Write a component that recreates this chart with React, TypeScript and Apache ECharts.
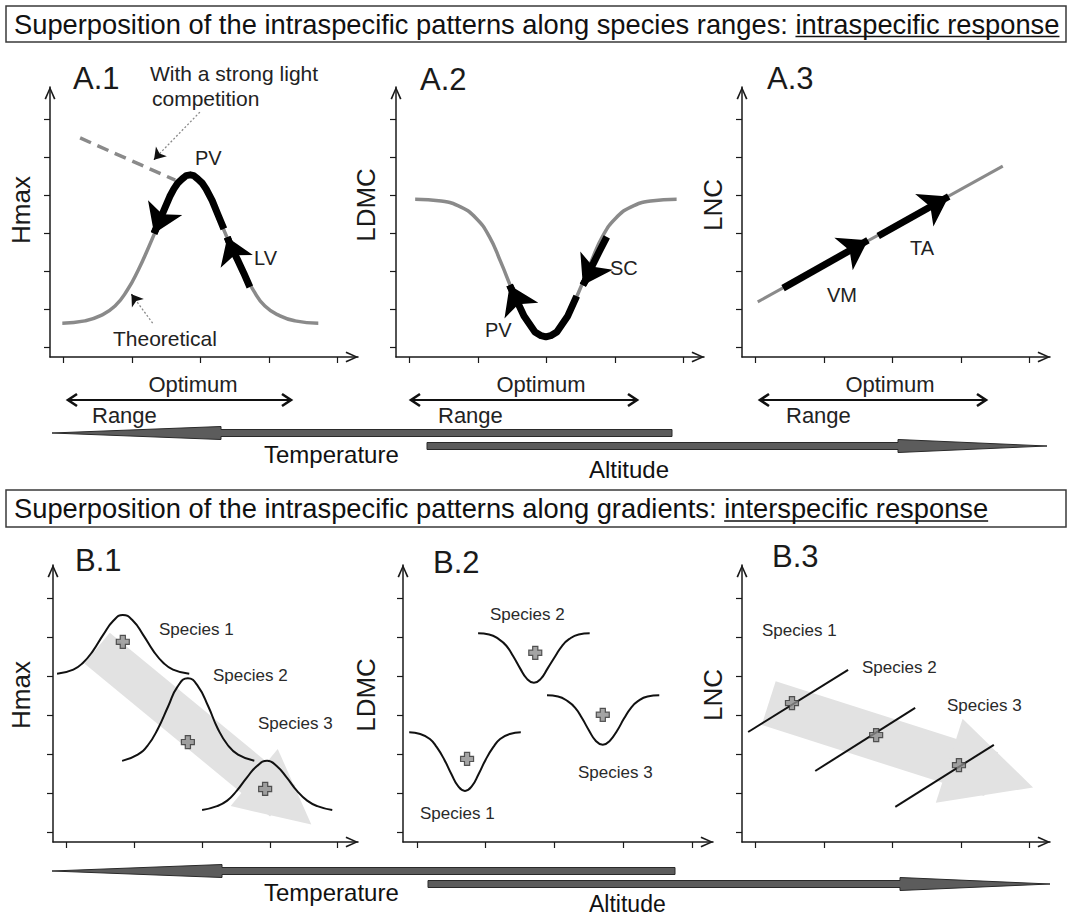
import React, { useEffect, useRef } from "react";
import * as echarts from "echarts";

const FONT = "'Liberation Sans', Arial, Helvetica, sans-serif";

// shared tick values (no labels in the figure)
const xTicks = [1, 2, 3, 4, 5];
const yTicks = [1, 2, 3, 4, 5, 6, 7];

// ---------- A.1 Hmax ----------
const a1Theoretical = [
  [0.98, 1.64], [1.31, 1.7], [1.53, 1.83], [1.75, 2.09], [1.93, 2.51], [2.09, 3.04], [2.23, 3.59],
  [2.41, 4.35], [2.58, 5.06], [2.73, 5.43], [2.85, 5.54], [2.96, 5.43], [3.11, 5.06], [3.28, 4.35],
  [3.46, 3.59], [3.61, 3.04], [3.77, 2.51], [3.94, 2.09], [4.16, 1.83], [4.38, 1.7], [4.72, 1.64],
];
const a1PV = [
  [3.34, 4.12], [3.25, 4.51], [3.17, 4.86], [3.08, 5.17], [3.02, 5.33], [2.96, 5.43], [2.9, 5.52],
  [2.85, 5.54], [2.79, 5.52], [2.73, 5.43], [2.67, 5.33], [2.61, 5.17], [2.55, 4.97], [2.47, 4.63],
  [2.38, 4.25], [2.32, 4.0],
];
const a1LV = [[3.72, 2.59], [3.63, 2.96], [3.55, 3.27], [3.44, 3.67], [3.39, 3.9]];
const a1LightCompetition = [[1.24, 6.51], [2.63, 5.4]];
const a1CompetitionPointer = [[2.99, 7.19], [2.37, 6.04], [2.32, 5.94]];
const a1TheoreticalPointer = [[2.3, 1.64], [2.03, 2.3], [1.99, 2.4]];

// ---------- A.2 LDMC ----------
const a2Theoretical = [
  [1.08, 4.9], [1.46, 4.85], [1.75, 4.69], [1.97, 4.4], [2.16, 3.93], [2.33, 3.25], [2.51, 2.46],
  [2.67, 1.83], [2.83, 1.41], [2.99, 1.28], [3.15, 1.41], [3.31, 1.83], [3.47, 2.46], [3.65, 3.25],
  [3.82, 3.93], [4.01, 4.4], [4.23, 4.69], [4.52, 4.85], [4.9, 4.9],
];
const a2PV = [
  [3.44, 2.35], [3.31, 1.83], [3.15, 1.41], [3.06, 1.31], [2.99, 1.28], [2.92, 1.31], [2.83, 1.41],
  [2.67, 1.83], [2.54, 2.33], [2.46, 2.64],
];
const a2SC = [[3.88, 3.91], [3.78, 3.56], [3.68, 3.2], [3.58, 2.8], [3.53, 2.64]];

// ---------- A.3 LNC ----------
const a3Theoretical = [[1.03, 2.2], [4.61, 5.77]];
const a3VM = [[1.4, 2.56], [2.64, 3.82]];
const a3TA = [[2.79, 3.93], [3.82, 4.97]];

// ---------- B.1 Hmax ----------
const b1Species1 = [
  [0.86, 5.06], [1.1, 5.17], [1.24, 5.34], [1.39, 5.65], [1.54, 6.06], [1.69, 6.42], [1.83, 6.57],
  [1.98, 6.42], [2.13, 6.06], [2.28, 5.65], [2.43, 5.34], [2.57, 5.17], [2.81, 5.06],
];
const b1Species2 = [
  [1.82, 2.83], [2.05, 2.99], [2.2, 3.23], [2.35, 3.66], [2.5, 4.23], [2.64, 4.74], [2.79, 4.95],
  [2.94, 4.74], [3.09, 4.23], [3.23, 3.66], [3.38, 3.23], [3.53, 2.99], [3.77, 2.83],
];
const b1Species3 = [
  [3.0, 1.57], [3.22, 1.67], [3.37, 1.81], [3.51, 2.06], [3.66, 2.4], [3.81, 2.7], [3.96, 2.83],
  [4.1, 2.7], [4.25, 2.4], [4.4, 2.06], [4.55, 1.81], [4.7, 1.67], [4.92, 1.57],
];
const b1Means = [[1.83, 5.88], [2.79, 3.31], [3.93, 2.11]];
const b1Trend = [[1.45, 5.72], [4.19, 1.8]];

// ---------- B.2 LDMC ----------
const b2Species1 = [
  [0.89, 3.56], [1.05, 3.52], [1.19, 3.39], [1.29, 3.18], [1.4, 2.86], [1.5, 2.5], [1.6, 2.18], [1.7, 2.06],
  [1.8, 2.18], [1.9, 2.5], [2.0, 2.86], [2.11, 3.18], [2.21, 3.39], [2.35, 3.52], [2.51, 3.56],
];
const b2Species2 = [
  [1.89, 6.1], [2.05, 6.07], [2.19, 5.95], [2.3, 5.78], [2.4, 5.51], [2.5, 5.2], [2.6, 4.93], [2.7, 4.83],
  [2.8, 4.93], [2.9, 5.2], [3.01, 5.51], [3.11, 5.78], [3.21, 5.95], [3.35, 6.07], [3.51, 6.1],
];
const b2Species3 = [
  [2.89, 4.51], [3.05, 4.48], [3.19, 4.36], [3.3, 4.19], [3.4, 3.92], [3.5, 3.61], [3.6, 3.34], [3.7, 3.24],
  [3.8, 3.34], [3.91, 3.61], [4.01, 3.92], [4.11, 4.19], [4.21, 4.36], [4.35, 4.48], [4.52, 4.51],
];
const b2Means = [[1.73, 2.88], [2.72, 5.6], [3.7, 4.01]];

// ---------- B.3 LNC ----------
const b3Species1 = [[0.89, 3.57], [2.35, 5.16]];
const b3Species2 = [[1.87, 2.57], [3.33, 4.19]];
const b3Species3 = [[3.04, 1.65], [4.48, 3.24]];
const b3Means = [[1.53, 4.31], [2.76, 3.49], [3.97, 2.72]];
const b3Trend = [[1.19, 4.31], [4.44, 2.49]];

const PLUS = "path://M3,0H7V3H10V7H7V10H3V7H0V3H3Z";
const CHEVRON = "path://M5,0L10,11L8.6,11.7L5,3.2L1.4,11.7L0,11Z";

const grids = [
  { left: 50, top: 87, width: 308, height: 270 },
  { left: 396, top: 87, width: 308, height: 270 },
  { left: 742, top: 87, width: 308, height: 270 },
  { left: 53, top: 565, width: 305, height: 277 },
  { left: 403, top: 565, width: 310, height: 277 },
  { left: 742, top: 565, width: 308, height: 277 },
];

const AX = "#1a1a1a";

function curve(g: number, data: number[][], color: string, width: number, extra: any = {}) {
  return {
    type: "line", xAxisIndex: g, yAxisIndex: g, data, showSymbol: false, symbol: "none",
    smooth: true, silent: true, z: extra.z || 3,
    lineStyle: { color, width, ...(extra.lineStyle || {}) },
  };
}
function linesBase(g: number, color: string, width: number, extra: any, type: any) {
  return {
    type: "lines", coordinateSystem: "cartesian2d", xAxisIndex: g, yAxisIndex: g, silent: true,
    z: extra.z || 4,
    lineStyle: { color, width, opacity: 1, curveness: 0, join: "round", type, cap: "butt" },
  };
}
// body as polyline, head as a last straight segment carrying the symbol
function arrowPath(g: number, coords: number[][], color: string, width: number, size: number, extra: any = {}) {
  const out: any[] = [];
  const n = coords.length;
  if (n > 2) {
    out.push({ ...linesBase(g, color, width, extra, extra.type || "solid"), polyline: true, data: [{ coords }], symbol: "none" });
  }
  out.push({
    ...linesBase(g, extra.headColor || color, width, extra, "solid"), polyline: false,
    data: [{ coords: coords.slice(n - 2) }],
    symbol: ["none", extra.symbol || "arrow"], symbolSize: size,
  });
  return out;
}
function means(g: number, data: number[][]) {
  return {
    type: "scatter", xAxisIndex: g, yAxisIndex: g, data, symbol: PLUS, symbolSize: 13, silent: true, z: 6,
    itemStyle: { color: "#8d8d8d", borderColor: "#333", borderWidth: 1.2 },
  };
}

function txt(text: string, x: number, y: number, size: number, opt: any = {}) {
  return {
    type: "text", x, y, rotation: opt.rot || 0, z: 20, silent: true,
    style: {
      text, fill: opt.color || "#1a1a1a", font: `${size}px ${FONT}`,
      textAlign: opt.align || "left", textVerticalAlign: "middle", align: opt.align || "left", verticalAlign: "middle",
    },
  };
}
function hline(x1: number, x2: number, y: number, w: number, color = "#111") {
  return { type: "line", z: 20, silent: true, shape: { x1, y1: y, x2, y2: y }, style: { stroke: color, lineWidth: w } };
}
function dblArrow(x1: number, x2: number, y: number) {
  return [
    hline(x1 + 1, x2 - 1, y, 1.8),
    { type: "polyline", z: 20, silent: true, shape: { points: [[x1 + 9, y - 6], [x1, y], [x1 + 9, y + 6]] }, style: { stroke: "#111", lineWidth: 2.6, fill: null } },
    { type: "polyline", z: 20, silent: true, shape: { points: [[x2 - 9, y - 6], [x2, y], [x2 - 9, y + 6]] }, style: { stroke: "#111", lineWidth: 2.6, fill: null } },
  ];
}
function tempArrow(y: number, tip: number, base: number, end: number) {
  return {
    type: "polygon", z: 20, silent: true,
    shape: { points: [[tip, y], [base, y - 6.5], [base, y - 3.5], [end, y - 3.5], [end, y + 3.5], [base, y + 3.5], [base, y + 6.5]] },
    style: { fill: "#5c5c5c", stroke: "#2a2a2a", lineWidth: 1 },
  };
}
function altArrow(y: number, start: number, base: number, tip: number) {
  return {
    type: "polygon", z: 20, silent: true,
    shape: { points: [[start, y - 3.5], [base, y - 3.5], [base, y - 6.5], [tip, y], [base, y + 6.5], [base, y + 3.5], [start, y + 3.5]] },
    style: { fill: "#5c5c5c", stroke: "#2a2a2a", lineWidth: 1 },
  };
}
function header(y: number, h: number, text: string, fs: number, ulFrom: number, ulTo: number) {
  return [
    { type: "rect", z: 15, silent: true, shape: { x: 6, y, width: 1060, height: h }, style: { fill: "#fff", stroke: "#3a3a3a", lineWidth: 1.5 } },
    txt(text, 14, y + h / 2, fs, { color: "#111" }),
    hline(14 + ulFrom * fs, 14 + ulTo * fs, y + h / 2 + 12.5, 1.5, "#111"),
  ];
}

export default function App() {
  const ref = useRef<HTMLDivElement>(null);
  useEffect(() => {
    if (!ref.current) return;
    const chart = echarts.init(ref.current, null, { renderer: "svg" });
    const axisLine = {
      show: true, onZero: false, symbol: ["none", CHEVRON], symbolSize: [11, 13], symbolOffset: [0, -6],
      lineStyle: { color: AX, width: 1.5 },
    };
    const GRAY = "#8a8a8a";
    const series: any[] = [
      // A.1
      curve(0, a1Theoretical, GRAY, 3.5),
      curve(0, a1LightCompetition, GRAY, 3.5, { lineStyle: { type: [12, 7] } }),
      ...arrowPath(0, a1PV, "#000", 7, 28),
      ...arrowPath(0, a1LV, "#000", 7, 26),
      ...arrowPath(0, a1CompetitionPointer, "#8a8a8a", 1.3, 11, { type: [2, 2], headColor: "#111" }),
      ...arrowPath(0, a1TheoreticalPointer, "#8a8a8a", 1.3, 11, { type: [2, 2], headColor: "#111" }),
      // A.2
      curve(1, a2Theoretical, GRAY, 3.5),
      ...arrowPath(1, a2PV, "#000", 7, 28),
      ...arrowPath(1, a2SC, "#000", 7, 28),
      // A.3
      curve(2, a3Theoretical, GRAY, 3),
      ...arrowPath(2, a3VM, "#000", 7, 28),
      ...arrowPath(2, a3TA, "#000", 7, 28),
      // B.1
      ...arrowPath(3, b1Trend, "#e2e2e2", 40, 74, { symbol: "triangle", z: 1 }),
      curve(3, b1Species1, "#111", 2),
      curve(3, b1Species2, "#111", 2),
      curve(3, b1Species3, "#111", 2),
      means(3, b1Means),
      // B.2
      curve(4, b2Species1, "#111", 2),
      curve(4, b2Species2, "#111", 2),
      curve(4, b2Species3, "#111", 2),
      means(4, b2Means),
      // B.3
      ...arrowPath(5, b3Trend, "#e2e2e2", 46, 88, { symbol: "triangle", z: 1 }),
      curve(5, b3Species1, "#111", 2),
      curve(5, b3Species2, "#111", 2),
      curve(5, b3Species3, "#111", 2),
      means(5, b3Means),
    ];

    const graphic: any[] = [
      ...header(6, 36, "Superposition of the intraspecific patterns along species ranges: intraspecific response", 27.3, 28.625, 38.295),
      ...header(490, 37, "Superposition of the intraspecific patterns along gradients: interspecific response", 27.3, 26.013, 35.683),
      txt("A.1", 73, 78, 31), txt("A.2", 420, 79, 31), txt("A.3", 767, 78, 31),
      txt("B.1", 75, 560, 31), txt("B.2", 433, 562, 31), txt("B.3", 772, 556, 31),
      txt("Hmax", 21, 210, 26, { rot: Math.PI / 2, align: "center" }),
      txt("LDMC", 366, 205, 26, { rot: Math.PI / 2, align: "center" }),
      txt("LNC", 713, 205, 26, { rot: Math.PI / 2, align: "center" }),
      txt("Hmax", 21, 695, 26, { rot: Math.PI / 2, align: "center" }),
      txt("LDMC", 366, 695, 26, { rot: Math.PI / 2, align: "center" }),
      txt("LNC", 713, 695, 26, { rot: Math.PI / 2, align: "center" }),
      txt("With a strong light", 150, 73, 21, { color: "#222" }),
      txt("competition", 152, 98, 21, { color: "#222" }),
      txt("Theoretical", 113, 338, 21, { color: "#222" }),
      txt("PV", 195, 158, 20, { color: "#222" }),
      txt("LV", 254, 258, 20, { color: "#222" }),
      txt("SC", 610, 268, 20, { color: "#222" }),
      txt("PV", 485, 330, 20, { color: "#222" }),
      txt("VM", 827, 295, 20, { color: "#222" }),
      txt("TA", 910, 248, 20, { color: "#222" }),
      txt("Optimum", 193, 384, 22, { align: "center", color: "#222" }),
      txt("Optimum", 541, 384, 22, { align: "center", color: "#222" }),
      txt("Optimum", 890, 384, 22, { align: "center", color: "#222" }),
      ...dblArrow(68, 291, 400), ...dblArrow(411, 637, 400), ...dblArrow(760, 986, 400),
      txt("Range", 92, 415, 22, { color: "#222" }),
      txt("Range", 438, 415, 22, { color: "#222" }),
      txt("Range", 786, 415, 22, { color: "#222" }),
      tempArrow(433, 52, 221, 672), altArrow(446, 427, 898, 1047),
      txt("Temperature", 264, 454, 24, { color: "#111" }),
      txt("Altitude", 589, 469, 24, { color: "#111" }),
      tempArrow(871, 52, 222, 675), altArrow(884, 428, 900, 1050),
      txt("Temperature", 264, 892, 24, { color: "#111" }),
      txt("Altitude", 589, 904, 23, { color: "#111" }),
      txt("Species 1", 159, 629, 17, { color: "#2a2a2a" }),
      txt("Species 2", 213, 675, 17, { color: "#2a2a2a" }),
      txt("Species 3", 258, 723, 17, { color: "#2a2a2a" }),
      txt("Species 2", 490, 614, 17, { color: "#2a2a2a" }),
      txt("Species 3", 578, 772, 17, { color: "#2a2a2a" }),
      txt("Species 1", 420, 813, 17, { color: "#2a2a2a" }),
      txt("Species 1", 762, 630, 17, { color: "#2a2a2a" }),
      txt("Species 2", 862, 667, 17, { color: "#2a2a2a" }),
      txt("Species 3", 947, 705, 17, { color: "#2a2a2a" }),
    ];

    chart.setOption({
      animation: false,
      backgroundColor: "#fff",
      grid: grids.map((g) => ({ ...g, containLabel: false, outerBoundsMode: "none" })),
      xAxis: grids.map((_, i) => ({
        type: "value", gridIndex: i, min: 0.8, max: 5.3, axisLine,
        axisTick: { show: true, inside: false, length: 6, customValues: xTicks, lineStyle: { color: AX, width: 1.2 } },
        axisLabel: { show: false }, splitLine: { show: false },
      })),
      yAxis: grids.map((_, i) => ({
        type: "value", gridIndex: i, min: 0.75, max: 7.85, axisLine,
        axisTick: { show: true, inside: false, length: 6, customValues: yTicks, lineStyle: { color: AX, width: 1.2 } },
        axisLabel: { show: false }, splitLine: { show: false },
      })),
      series,
      graphic,
    });
    return () => chart.dispose();
  }, []);
  return <div ref={ref} style={{ position: "absolute", left: 0, top: 0, width: 1071, height: 918 }} />;
}
